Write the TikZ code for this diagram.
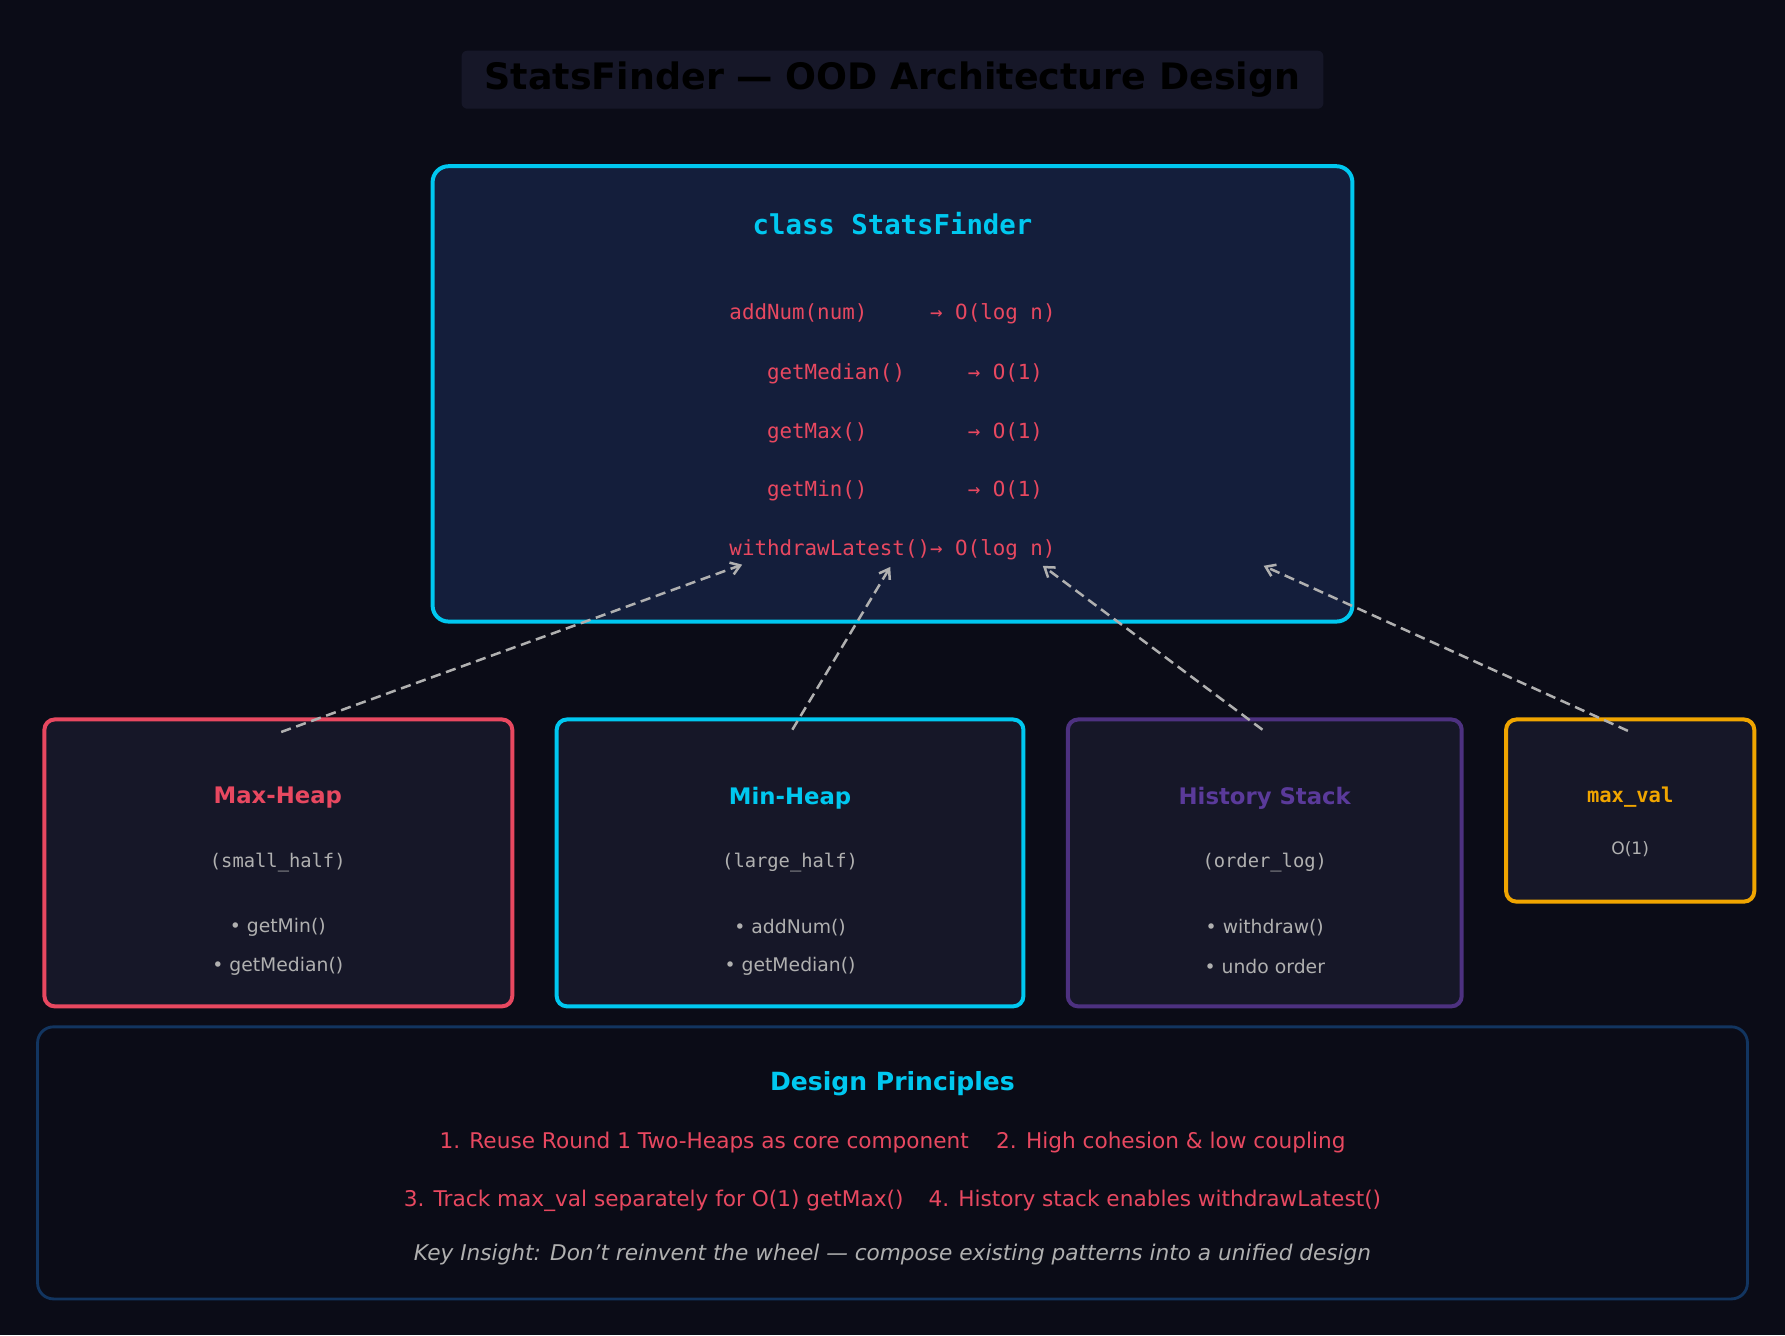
\documentclass[tikz,border=0pt]{standalone}
\usepackage{fontspec}
\usetikzlibrary{arrows.meta}
\setmainfont{DejaVu Sans}
\setmonofont{DejaVu Sans Mono}
\definecolor{bg}{HTML}{0B0C17}
\definecolor{tbox}{HTML}{161728}
\definecolor{mainf}{HTML}{141E3B}
\definecolor{cyan}{HTML}{00C8F0}
\definecolor{red}{HTML}{E84860}
\definecolor{purp}{HTML}{4D3180}
\definecolor{purt}{HTML}{5A3A9A}
\definecolor{orng}{HTML}{F0A500}
\definecolor{gry}{HTML}{B0B0B0}
\definecolor{navy}{HTML}{123560}
\newcommand{\sps}[1]{\hphantom{#1}}
\begin{document}
\begin{tikzpicture}[x=1pt,y=-1pt,
  box/.style={draw,line width=3.5pt,rounded corners=9pt,fill=tbox},
  meth/.style={text=red,font=\ttfamily\fontsize{18.3}{20}\selectfont,anchor=center},
  btitle/.style={font=\bfseries\fontsize{20}{24}\selectfont},
  bsub/.style={text=gry,font=\ttfamily\fontsize{16.5}{20}\selectfont},
  bul/.style={text=gry,font=\fontsize{16.5}{20}\selectfont},
  pr/.style={text=red,font=\fontsize{19}{23}\selectfont},
  dep/.style={draw=gry,line width=2.2pt,dash pattern=on 9pt off 5pt,-{Straight Barb[length=8pt,width=11pt]}}]
\fill[bg] (0,0) rectangle (1568,1173);
\useasboundingbox (0,0) rectangle (1568,1173);
\node[fill=tbox,rounded corners=5pt,minimum width=757pt,minimum height=51pt,font=\bfseries\fontsize{32}{38}\selectfont,text=black] (title) at (784,70) {StatsFinder — OOD Architecture Design};
\draw[box,draw=cyan,fill=mainf,rounded corners=14pt] (380,146) rectangle (1188,546);
\node[text=cyan,font=\ttfamily\bfseries\fontsize{24}{28}\selectfont] (cls) at (784,196) {class StatsFinder};
\node[meth] (m1) at (784,276) {addNum(num)\sps{xxxxx}→ O(log n)};
\node[meth] (m2) at (784,328) {\sps{xx}getMedian()\sps{xxxxx}→ O(1)};
\node[meth] (m3) at (784,380) {\sps{xx}getMax()\sps{xxxxxxxx}→ O(1)};
\node[meth] (m4) at (784,431) {\sps{xx}getMin()\sps{xxxxxxxx}→ O(1)};
\node[meth] (m5) at (784,483) {withdrawLatest()→ O(log n)};
% boxes
\draw[box,draw=red] (39,632) rectangle (450,884);
\node[btitle,text=red] (mh) at (244,701) {Max-Heap};
\node[bsub] at (244,758) {(small\_half)};
\node[bul] at (244,815) {• getMin()};
\node[bul] at (244,849) {• getMedian()};
\draw[box,draw=cyan] (489,632) rectangle (899,884);
\node[btitle,text=cyan] (nh) at (694,701) {Min-Heap};
\node[bsub] at (694,758) {(large\_half)};
\node[bul] at (694,815) {• addNum()};
\node[bul] at (694,849) {• getMedian()};
\draw[box,draw=purp] (938,632) rectangle (1284,884);
\node[btitle,text=purt] (hs) at (1111,701) {History Stack};
\node[bsub] at (1111,758) {(order\_log)};
\node[bul] at (1111,815) {• withdraw()};
\node[bul] at (1111,849) {• undo order};
\draw[box,draw=orng] (1323,632) rectangle (1541,792);
\node[text=orng,font=\ttfamily\bfseries\fontsize{18}{22}\selectfont] (mv) at (1432,700) {max\_val};
\node[text=gry,font=\fontsize{15}{18}\selectfont] at (1432,746) {O(1)};
% arrows
\coordinate (a1) at (247,643); \coordinate (b1) at (652,496);
\coordinate (a2) at (696,641); \coordinate (b2) at (782,498);
\coordinate (a3) at (1109,641); \coordinate (b3) at (916,497);
\coordinate (a4) at (1430,642); \coordinate (b4) at (1110,497);
\draw[dep] (a1) -- (b1);
\draw[dep] (a2) -- (b2);
\draw[dep] (a3) -- (b3);
\draw[dep] (a4) -- (b4);
% principles
\draw[draw=navy,line width=2.5pt,rounded corners=14pt,fill=bg] (33,902) rectangle (1535,1141);
\node[text=cyan,font=\bfseries\fontsize{22}{26}\selectfont] (dp) at (784,952) {Design Principles};
\node[pr] at (784,1004) {1. Reuse Round 1 Two-Heaps as core component\hspace{24pt}2. High cohesion \& low coupling};
\node[pr] at (784,1055) {3. Track max\_val separately for O(1) getMax()\hspace{22pt}4. History stack enables withdrawLatest()};
\node[text=gry,font=\itshape\fontsize{19}{23}\selectfont] at (784,1102) {Key Insight: Don't reinvent the wheel — compose existing patterns into a unified design};
\end{tikzpicture}
\end{document}
